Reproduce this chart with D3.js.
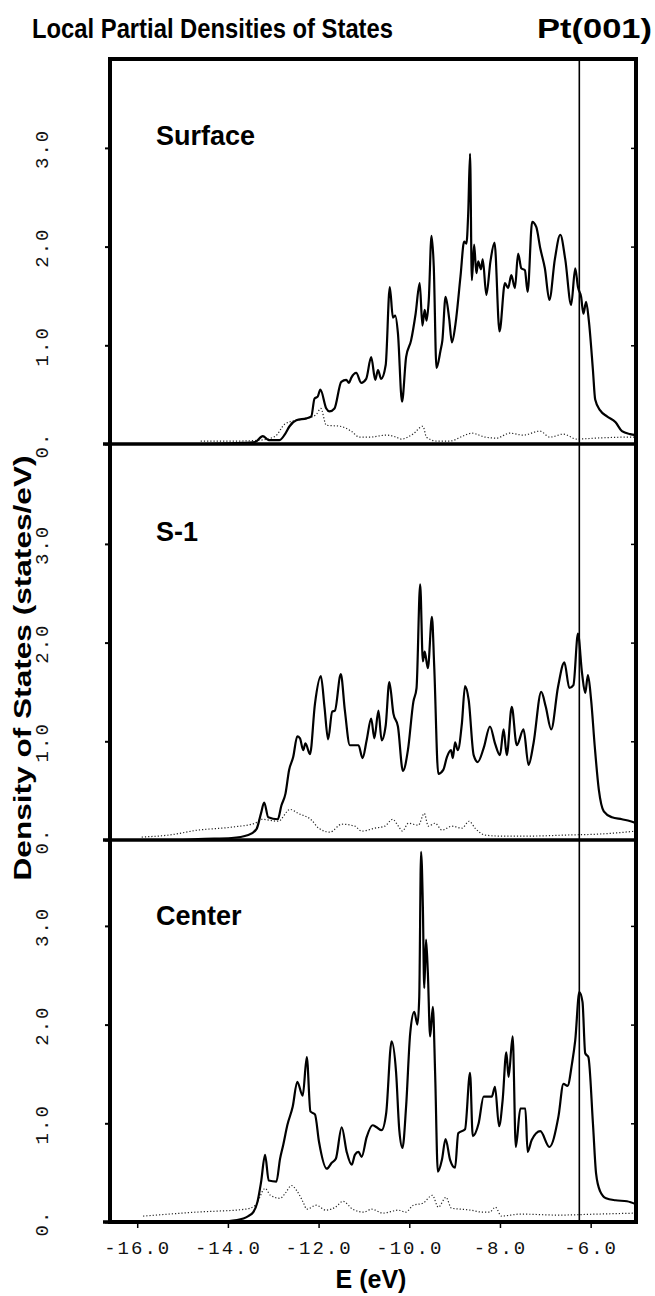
<!DOCTYPE html>
<html><head><meta charset="utf-8">
<script src="https://cdn.jsdelivr.net/npm/d3@7/dist/d3.min.js"></script>
<style>html,body{margin:0;padding:0;background:#fff;}svg{display:block;}</style>
</head><body>
<script>
// ---------------- DATA ----------------
const titleMain = "Local Partial Densities of States";
const titleSystem = "Pt(001)";
const xAxisTitle = "E (eV)";
const yAxisTitle = "Density of States  (states/eV)";
const panelNames = ["Surface", "S-1", "Center"];
const energyTicks = [-16, -14, -12, -10, -8, -6];
const energyTickLabels = ["-16.0", "-14.0", "-12.0", "-10.0", "-8.0", "-6.0"];
const dosTicks = [0, 1, 2, 3];
const dosTickLabels = ["0.", "1.0", "2.0", "3.0"];
const fermiLevel = -6.25;
const energyRange = [-16.6, -5.0];

// [energy (eV), DOS (states/eV)]
const surfaceSolid = [
 [-14.6,0.0],[-13.8,0.01],[-13.4,0.02],[-13.23,0.08],[-13.1,0.04],[-12.86,0.04],[-12.74,0.1],[-12.64,0.18],[-12.49,0.24],
 [-12.27,0.26],[-12.16,0.28],[-12.09,0.46],[-12.02,0.48],[-11.96,0.55],[-11.83,0.36],[-11.76,0.33],[-11.65,0.36],
 [-11.5,0.63],[-11.39,0.65],[-11.33,0.62],[-11.28,0.67],[-11.17,0.72],[-11.06,0.62],[-10.95,0.66],[-10.84,0.88],
 [-10.75,0.65],[-10.69,0.75],[-10.62,0.66],[-10.52,0.8],[-10.43,1.59],[-10.36,1.28],[-10.31,1.3],[-10.25,1.12],
 [-10.16,0.43],[-10.07,0.88],[-9.96,1.05],[-9.86,1.32],[-9.77,1.63],[-9.71,1.2],[-9.66,1.36],[-9.62,1.25],
 [-9.57,1.46],[-9.51,2.11],[-9.46,1.8],[-9.4,0.77],[-9.31,0.95],[-9.27,1.05],[-9.2,1.49],[-9.12,1.27],[-9.06,1.03],
 [-8.98,1.22],[-8.87,1.7],[-8.79,2.05],[-8.74,2.03],[-8.7,2.34],[-8.66,2.94],[-8.62,1.66],[-8.57,2.02],[-8.52,1.73],
 [-8.48,1.85],[-8.42,1.77],[-8.38,1.87],[-8.3,1.51],[-8.21,1.85],[-8.12,2.04],[-8.01,1.14],[-7.89,1.63],[-7.82,1.58],
 [-7.75,1.71],[-7.67,1.58],[-7.6,1.93],[-7.53,1.78],[-7.45,1.76],[-7.39,1.54],[-7.29,2.25],[-7.2,2.2],[-7.11,1.98],
 [-7.01,1.78],[-6.91,1.46],[-6.79,1.87],[-6.67,2.12],[-6.56,1.87],[-6.43,1.41],[-6.34,1.78],[-6.28,1.59],[-6.21,1.49],
 [-6.16,1.32],[-6.1,1.44],[-6.04,1.25],[-5.95,0.75],[-5.9,0.45],[-5.79,0.34],[-5.64,0.28],[-5.45,0.22],[-5.31,0.13],
 [-5.13,0.1],[-5.0,0.09]
];
const surfaceDotted = [
 [-14.6,0.03],[-13.8,0.03],[-13.26,0.04],[-12.95,0.08],[-12.75,0.2],[-12.5,0.24],[-12.25,0.26],[-12.05,0.3],
 [-11.95,0.36],[-11.83,0.19],[-11.53,0.18],[-11.28,0.13],[-11.1,0.07],[-10.87,0.07],[-10.51,0.09],[-10.29,0.07],
 [-10.18,0.05],[-9.92,0.1],[-9.7,0.18],[-9.62,0.07],[-9.4,0.03],[-9.1,0.03],[-8.82,0.08],[-8.62,0.11],[-8.33,0.07],
 [-8.08,0.06],[-7.78,0.11],[-7.49,0.09],[-7.12,0.13],[-6.9,0.07],[-6.6,0.1],[-6.31,0.05],[-5.87,0.06],[-5.13,0.07],[-5.0,0.07]
];
const s1Solid = [
 [-15.0,0.0],[-14.66,0.01],[-13.92,0.02],[-13.55,0.05],[-13.37,0.11],[-13.27,0.27],[-13.2,0.38],[-13.11,0.23],
 [-12.9,0.21],[-12.82,0.35],[-12.73,0.47],[-12.65,0.71],[-12.56,0.84],[-12.47,1.05],[-12.41,1.03],[-12.34,0.91],
 [-12.29,0.98],[-12.19,0.87],[-12.08,1.38],[-11.95,1.66],[-11.87,1.35],[-11.79,1.02],[-11.7,1.3],[-11.64,1.31],
 [-11.51,1.68],[-11.42,1.31],[-11.31,0.96],[-11.12,0.96],[-11.03,0.83],[-10.94,1.01],[-10.84,1.23],[-10.77,1.03],
 [-10.68,1.31],[-10.61,1.01],[-10.52,1.16],[-10.44,1.6],[-10.35,1.28],[-10.25,1.15],[-10.14,0.7],[-10.03,0.91],
 [-9.91,1.4],[-9.84,1.54],[-9.76,2.59],[-9.7,1.81],[-9.66,1.91],[-9.59,1.74],[-9.5,2.26],[-9.45,1.76],[-9.36,0.67],
 [-9.25,0.71],[-9.17,0.84],[-9.08,0.91],[-9.04,0.83],[-8.99,0.99],[-8.93,0.91],[-8.84,1.18],[-8.77,1.56],[-8.69,1.42],
 [-8.58,0.86],[-8.49,0.79],[-8.36,0.93],[-8.22,1.15],[-8.11,0.98],[-8.0,0.86],[-7.92,1.12],[-7.85,0.86],[-7.74,1.35],
 [-7.63,0.96],[-7.48,1.12],[-7.37,0.76],[-7.26,0.98],[-7.09,1.5],[-6.99,1.35],[-6.87,1.12],[-6.72,1.55],[-6.58,1.8],
 [-6.47,1.54],[-6.38,1.57],[-6.28,2.09],[-6.19,1.69],[-6.12,1.49],[-6.06,1.67],[-5.99,1.42],[-5.91,0.95],[-5.82,0.51],
 [-5.71,0.29],[-5.53,0.23],[-5.31,0.21],[-5.12,0.19],[-5.0,0.17]
];
const s1Dotted = [
 [-15.9,0.03],[-15.3,0.05],[-14.66,0.1],[-13.92,0.13],[-13.4,0.17],[-13.26,0.21],[-12.89,0.19],[-12.63,0.31],
 [-12.45,0.27],[-12.15,0.2],[-12.0,0.12],[-11.75,0.08],[-11.49,0.16],[-11.2,0.14],[-11.05,0.09],[-10.76,0.12],
 [-10.54,0.14],[-10.37,0.21],[-10.24,0.14],[-10.15,0.09],[-10.02,0.17],[-9.8,0.15],[-9.67,0.27],[-9.58,0.14],
 [-9.43,0.17],[-9.28,0.1],[-9.06,0.14],[-8.84,0.12],[-8.68,0.19],[-8.55,0.12],[-8.33,0.05],[-8.03,0.04],
 [-7.3,0.04],[-6.56,0.05],[-5.82,0.06],[-5.0,0.09]
];
const centerSolid = [
 [-14.3,0.0],[-13.8,0.02],[-13.55,0.06],[-13.44,0.1],[-13.35,0.2],[-13.27,0.4],[-13.18,0.68],[-13.1,0.42],
 [-12.93,0.41],[-12.85,0.64],[-12.78,0.78],[-12.69,0.98],[-12.57,1.17],[-12.47,1.42],[-12.35,1.28],[-12.26,1.67],
 [-12.18,1.12],[-12.08,1.09],[-11.99,0.81],[-11.82,0.54],[-11.71,0.6],[-11.62,0.64],[-11.49,0.96],[-11.38,0.71],
 [-11.27,0.58],[-11.2,0.68],[-11.12,0.71],[-11.05,0.66],[-10.94,0.86],[-10.81,0.98],[-10.72,0.96],[-10.61,0.93],
 [-10.51,1.1],[-10.39,1.83],[-10.29,1.51],[-10.22,0.93],[-10.15,0.75],[-10.07,1.17],[-9.98,1.91],[-9.89,2.13],
 [-9.82,2.0],[-9.78,2.28],[-9.74,3.75],[-9.7,3.19],[-9.67,2.37],[-9.63,2.86],[-9.59,2.52],[-9.54,1.88],[-9.48,2.18],
 [-9.43,1.51],[-9.37,0.51],[-9.28,0.63],[-9.2,0.84],[-9.1,0.63],[-8.99,0.55],[-8.92,0.9],[-8.77,0.94],[-8.66,1.51],
 [-8.6,0.87],[-8.47,1.0],[-8.36,1.27],[-8.28,1.27],[-8.18,1.27],[-8.11,1.37],[-8.02,0.97],[-7.94,1.24],[-7.86,1.72],
 [-7.81,1.47],[-7.72,1.88],[-7.65,0.76],[-7.55,1.15],[-7.44,1.15],[-7.39,0.71],[-7.3,0.83],[-7.11,0.92],[-6.91,0.76],
 [-6.71,1.07],[-6.6,1.4],[-6.51,1.38],[-6.41,1.61],[-6.34,1.84],[-6.25,2.33],[-6.18,2.23],[-6.12,1.71],[-6.05,1.67],
 [-5.95,1.0],[-5.88,0.49],[-5.79,0.31],[-5.66,0.24],[-5.45,0.22],[-5.2,0.21],[-5.0,0.18]
];
const centerDotted = [
 [-15.87,0.06],[-14.7,0.1],[-13.61,0.13],[-13.39,0.17],[-13.18,0.34],[-13.06,0.27],[-12.85,0.24],[-12.72,0.3],
 [-12.6,0.37],[-12.47,0.31],[-12.34,0.2],[-12.26,0.13],[-12.05,0.17],[-11.84,0.12],[-11.63,0.15],[-11.46,0.21],
 [-11.25,0.13],[-11.0,0.1],[-10.83,0.13],[-10.58,0.09],[-10.24,0.12],[-10.08,0.1],[-9.91,0.17],[-9.7,0.19],
 [-9.49,0.27],[-9.36,0.15],[-9.19,0.25],[-9.07,0.14],[-8.86,0.13],[-8.65,0.12],[-8.39,0.1],[-8.23,0.1],[-8.1,0.15],
 [-7.97,0.06],[-7.55,0.08],[-6.71,0.07],[-5.87,0.08],[-5.0,0.09]
];
const solidSeries = [surfaceSolid, s1Solid, centerSolid];
const dottedSeries = [surfaceDotted, s1Dotted, centerDotted];

// ---------------- LAYOUT ----------------
const W = 655, H = 1296;
const frameLeft = 110, frameRight = 636;
const panelLayout = [
  {top: 59, zero: 444, labelY: 145},
  {top: 444, zero: 840, labelY: 541},
  {top: 840, zero: 1222, labelY: 925}
];
const unitPx = 98.7;
const labelFont = "'Liberation Mono', 'DejaVu Sans Mono', monospace";
const boldFont = "'Liberation Sans', Arial, sans-serif";

const svg = d3.select("body").append("svg").attr("width", W).attr("height", H);
svg.append("rect").attr("width", W).attr("height", H).attr("fill", "#fff");

const x = d3.scaleLinear().domain(energyRange).range([frameLeft, frameRight]);

// Title
svg.append("text").attr("x", 32).attr("y", 38).attr("font-family", boldFont).attr("font-weight", "bold")
  .attr("font-size", 27).attr("textLength", 361).attr("lengthAdjust", "spacingAndGlyphs").text(titleMain);
svg.append("text").attr("x", 537).attr("y", 38).attr("font-family", boldFont).attr("font-weight", "bold")
  .attr("font-size", 27).attr("textLength", 115).attr("lengthAdjust", "spacingAndGlyphs").text(titleSystem);

panelLayout.forEach((p, i) => {
  const yMax = (p.zero - p.top) / unitPx;
  const y = d3.scaleLinear().domain([0, yMax]).range([p.zero, p.top]);
  const g = svg.append("g");
  const lineGen = d3.line().x(d => x(d[0])).y(d => y(d[1])).curve(d3.curveMonotoneX);

  // dotted (partial) curve
  g.append("path").datum(dottedSeries[i]).attr("d", lineGen)
    .attr("fill", "none").attr("stroke", "#222").attr("stroke-width", 1.2)
    .attr("stroke-dasharray", "1.2,2");
  // solid curve
  g.append("path").datum(solidSeries[i]).attr("d", lineGen)
    .attr("fill", "none").attr("stroke", "#000").attr("stroke-width", 2.2)
    .attr("stroke-linejoin", "round");

  // left axis ticks
  const leftAxis = d3.axisLeft(y).tickValues(dosTicks).tickSize(5).tickFormat("");
  const la = g.append("g").attr("transform", `translate(${frameLeft},0)`).call(leftAxis);
  la.select(".domain").remove();
  la.selectAll("line").attr("stroke", "#000").attr("stroke-width", 2);
  // right inward ticks
  const rightAxis = d3.axisLeft(y).tickValues(dosTicks.slice(1)).tickSize(5).tickFormat("");
  const ra = g.append("g").attr("transform", `translate(${frameRight},0)`).call(rightAxis);
  ra.select(".domain").remove();
  ra.selectAll("line").attr("stroke", "#000").attr("stroke-width", 1.5);

  // rotated y tick labels
  dosTicks.forEach((t, k) => {
    g.append("text")
      .attr("transform", `translate(48,${y(t) + 1}) rotate(-90)`)
      .attr("text-anchor", "middle").attr("font-family", labelFont).attr("font-size", 19)
      .attr("letter-spacing", 2).attr("fill", "#111").text(dosTickLabels[k]);
  });

  // panel label
  g.append("text").attr("x", 156).attr("y", p.labelY).attr("font-family", boldFont)
    .attr("font-weight", "bold").attr("font-size", 27).text(panelNames[i]);

  // zero line (panel separator) extends left a bit
  g.append("line").attr("x1", frameLeft - 7).attr("x2", frameRight).attr("y1", y(0)).attr("y2", y(0))
    .attr("stroke", "#000").attr("stroke-width", 3.5);
});

// outer frame
svg.append("rect").attr("x", frameLeft).attr("y", panelLayout[0].top)
  .attr("width", frameRight - frameLeft).attr("height", panelLayout[2].zero - panelLayout[0].top)
  .attr("fill", "none").attr("stroke", "#000").attr("stroke-width", 4);

// Fermi level line
svg.append("line").attr("x1", x(fermiLevel)).attr("x2", x(fermiLevel))
  .attr("y1", panelLayout[0].top).attr("y2", panelLayout[2].zero)
  .attr("stroke", "#000").attr("stroke-width", 1.6);

// bottom axis
const bottomAxis = d3.axisBottom(x).tickValues(energyTicks).tickSize(6)
  .tickFormat((d, k) => energyTickLabels[k]);
const ba = svg.append("g").attr("transform", `translate(0,${panelLayout[2].zero})`).call(bottomAxis);
ba.select(".domain").remove();
ba.selectAll("line").attr("stroke", "#000").attr("stroke-width", 1.5);
ba.selectAll("text").attr("y", 32).attr("dy", null).attr("font-family", labelFont)
  .attr("font-size", 19).attr("letter-spacing", 2).attr("fill", "#111");

// axis titles
svg.append("text").attr("x", 371).attr("y", 1288).attr("text-anchor", "middle")
  .attr("font-family", boldFont).attr("font-weight", "bold").attr("font-size", 25).text(xAxisTitle);
svg.append("text").attr("transform", "translate(31,668) rotate(-90)").attr("text-anchor", "middle")
  .attr("font-family", boldFont).attr("font-weight", "bold").attr("font-size", 24)
  .attr("textLength", 425).attr("lengthAdjust", "spacingAndGlyphs").text(yAxisTitle);
</script>
</body></html>
